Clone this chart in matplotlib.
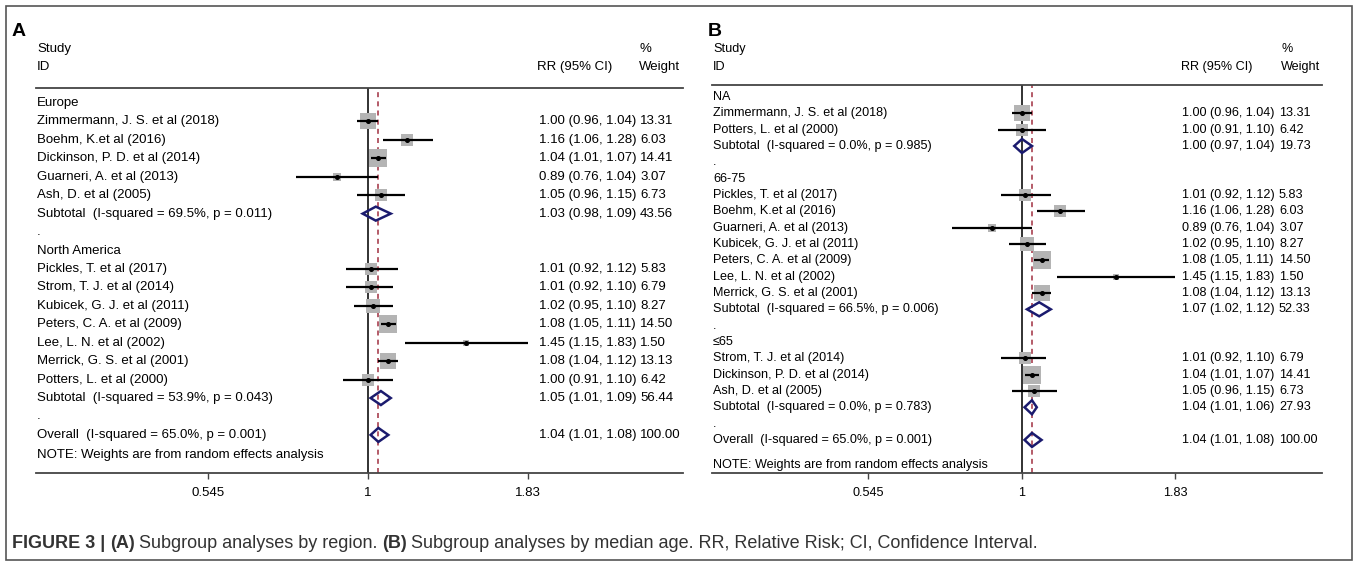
import numpy as np
import matplotlib
matplotlib.use("Agg")
import matplotlib.pyplot as plt
from matplotlib.patches import Polygon, Rectangle
from matplotlib.transforms import blended_transform_factory

plt.rcParams['font.family'] = ['Liberation Sans', 'DejaVu Sans']

# study level data (same weights in both panels)
names = ["Zimmermann, J. S. et al (2018)", "Boehm, K.et al (2016)",
         "Dickinson, P. D. et al (2014)", "Guarneri, A. et al (2013)",
         "Ash, D. et al (2005)", "Pickles, T. et al (2017)",
         "Strom, T. J. et al (2014)", "Kubicek, G. J. et al (2011)",
         "Peters, C. A. et al (2009)", "Lee, L. N. et al (2002)",
         "Merrick, G. S. et al (2001)", "Potters, L. et al (2000)"]
rr = [1.00, 1.16, 1.04, 0.89, 1.05, 1.01, 1.01, 1.02, 1.08, 1.45, 1.08, 1.00]
lo = [0.96, 1.06, 1.01, 0.76, 0.96, 0.92, 0.92, 0.95, 1.05, 1.15, 1.04, 0.91]
hi = [1.04, 1.28, 1.07, 1.04, 1.15, 1.12, 1.10, 1.10, 1.11, 1.83, 1.12, 1.10]
wt = [13.31, 6.03, 14.41, 3.07, 6.73, 5.83, 6.79, 8.27, 14.50, 1.50, 13.13, 6.42]

# panel A: by region
region_labels = ["Europe", "North America"]
region_idx = [[0, 1, 2, 3, 4], [5, 6, 7, 8, 9, 10, 11]]
region_rr = [1.03, 1.05]
region_lo = [0.98, 1.01]
region_hi = [1.09, 1.09]
region_wt = [43.56, 56.44]
region_het = ["I-squared = 69.5%, p = 0.011", "I-squared = 53.9%, p = 0.043"]

# panel B: by median age
age_labels = ["NA", "66-75", "≤65"]
age_idx = [[0, 11], [5, 1, 3, 7, 8, 9, 10], [6, 2, 4]]
age_rr = [1.00, 1.07, 1.04]
age_lo = [0.97, 1.02, 1.01]
age_hi = [1.04, 1.12, 1.06]
age_wt = [19.73, 52.33, 27.93]
age_het = ["I-squared = 0.0%, p = 0.985", "I-squared = 66.5%, p = 0.006",
           "I-squared = 0.0%, p = 0.783"]

overall = (1.04, 1.01, 1.08, 100.00)
overall_het = "I-squared = 65.0%, p = 0.001"

ticks = [0.545, 1, 1.83]
tick_labels = ["0.545", "1", "1.83"]

W, H = 1357, 566
fig = plt.figure(figsize=(W / 100, H / 100), dpi=100)


def fx(px):
    return px / W


def fy(py):
    return 1 - py / H


def build_rows(glabels, gidx, grr, glo, ghi, gwt, ghet):
    rows = []
    for g, lab in enumerate(glabels):
        rows.append(("head", lab, None, None, None, None))
        for i in gidx[g]:
            rows.append(("study", names[i], rr[i], lo[i], hi[i], wt[i]))
        rows.append(("sub", "Subtotal  (" + ghet[g] + ")", grr[g], glo[g], ghi[g], gwt[g]))
        rows.append(("dot", ".", None, None, None, None))
    rows.append(("sub", "Overall  (" + overall_het + ")") + overall)
    return rows


def panel(letter, letter_x, rows, left, right, top, bottom, one_px, scale, row0, step,
          col_rr, col_wt, hdr_rr, hdr_wt, note_y, fs):
    ax = fig.add_axes([fx(left), fy(bottom), (right - left) / W, (bottom - top) / H])
    ax.set_xscale('log')
    ax.set_xlim(np.exp((left - one_px) / scale), np.exp((right - one_px) / scale))
    ax.set_ylim((bottom - row0) / step, (top - row0) / step)
    for s in ['left', 'right']:
        ax.spines[s].set_visible(False)
    for s in ['top', 'bottom']:
        ax.spines[s].set_color('#444444')
        ax.spines[s].set_linewidth(1.3)
    ax.set_yticks([])
    ax.set_xticks(ticks)
    ax.set_xticklabels(tick_labels)
    ax.xaxis.set_minor_locator(matplotlib.ticker.NullLocator())
    ax.tick_params(axis='x', length=4, width=1, pad=6, labelsize=fs, color='#444444')

    ax.axvline(1, color='#222222', lw=1.3, zorder=1)
    ax.axvline(overall[0], color='#a8404f', lw=1.2, ls=(0, (3, 2.5)), zorder=1)

    tr = blended_transform_factory(fig.transFigure, ax.transData)
    h = 7.0 / step
    for k, (kind, lab, r, l, u, w) in enumerate(rows):
        ax.text(fx(left + 1), k, lab, transform=tr, va='center', ha='left', fontsize=fs)
        if kind == "study":
            ax.scatter([r], [k], marker='s', s=10.8 * w, color='#b4b4b4', lw=0, zorder=2)
            ax.plot([l, u], [k, k], color='black', lw=1.6, zorder=3, solid_capstyle='butt')
            ax.plot([r], [k], 'o', ms=2.6, color='black', zorder=4)
        elif kind == "sub":
            ax.add_patch(Polygon([(l, k), (r, k - h), (u, k), (r, k + h)], closed=True,
                                 fill=False, ec='#1b1b6e', lw=1.8, zorder=3))
        if r is not None:
            ax.text(fx(col_rr), k, f"{r:.2f} ({l:.2f}, {u:.2f})", transform=tr,
                    va='center', ha='left', fontsize=fs)
            ax.text(fx(col_wt), k, f"{w:.2f}", transform=tr, va='center', ha='left', fontsize=fs)

    ax.text(fx(left + 1), (note_y - row0) / step, "NOTE: Weights are from random effects analysis",
            transform=tr, va='center', ha='left', fontsize=fs)

    fig.text(fx(letter_x), fy(32), letter, fontsize=14, fontweight='bold', va='center', ha='left')
    fig.text(fx(left + 1), fy(49), "Study", fontsize=fs, va='center', ha='left')
    fig.text(fx(left + 1), fy(67), "ID", fontsize=fs, va='center', ha='left')
    fig.text(fx(hdr_rr), fy(67), "RR (95% CI)", fontsize=fs, va='center', ha='left')
    fig.text(fx(hdr_wt), fy(49), "%", fontsize=fs, va='center', ha='left')
    fig.text(fx(hdr_wt), fy(67), "Weight", fontsize=fs, va='center', ha='left')
    return ax


rows_a = build_rows(region_labels, region_idx, region_rr, region_lo, region_hi, region_wt, region_het)
rows_b = build_rows(age_labels, age_idx, age_rr, age_lo, age_hi, age_wt, age_het)

panel("A", 12, rows_a, 36, 683, 88, 473, 368, 264, 103, 18.44, 539, 640, 537, 639, 455, 9.5)
panel("B", 708, rows_b, 712, 1322, 85, 473, 1022, 254, 97, 16.33, 1182, 1279, 1181, 1281, 465, 9.1)

# caption with mixed bold parts
renderer = fig.canvas.get_renderer()
parts = [("FIGURE 3 |", 'bold'), ("(A)", 'bold'), ("Subgroup analyses by region.", 'normal'),
         ("(B)", 'bold'), ("Subgroup analyses by median age. RR, Relative Risk; CI, Confidence Interval.", 'normal')]
x = 12
for txt, fw in parts:
    t = fig.text(fx(x), fy(543), txt, fontsize=13, fontweight=fw, color='#333333',
                 va='center', ha='left')
    bb = t.get_window_extent(renderer)
    x += bb.width + 4.5

fig.patches.append(Rectangle((fx(6), fy(560)), (1352 - 6) / W, (560 - 6) / H,
                             transform=fig.transFigure, fill=False, ec='#555555', lw=1.2))

fig.savefig("out.png", dpi=100)
